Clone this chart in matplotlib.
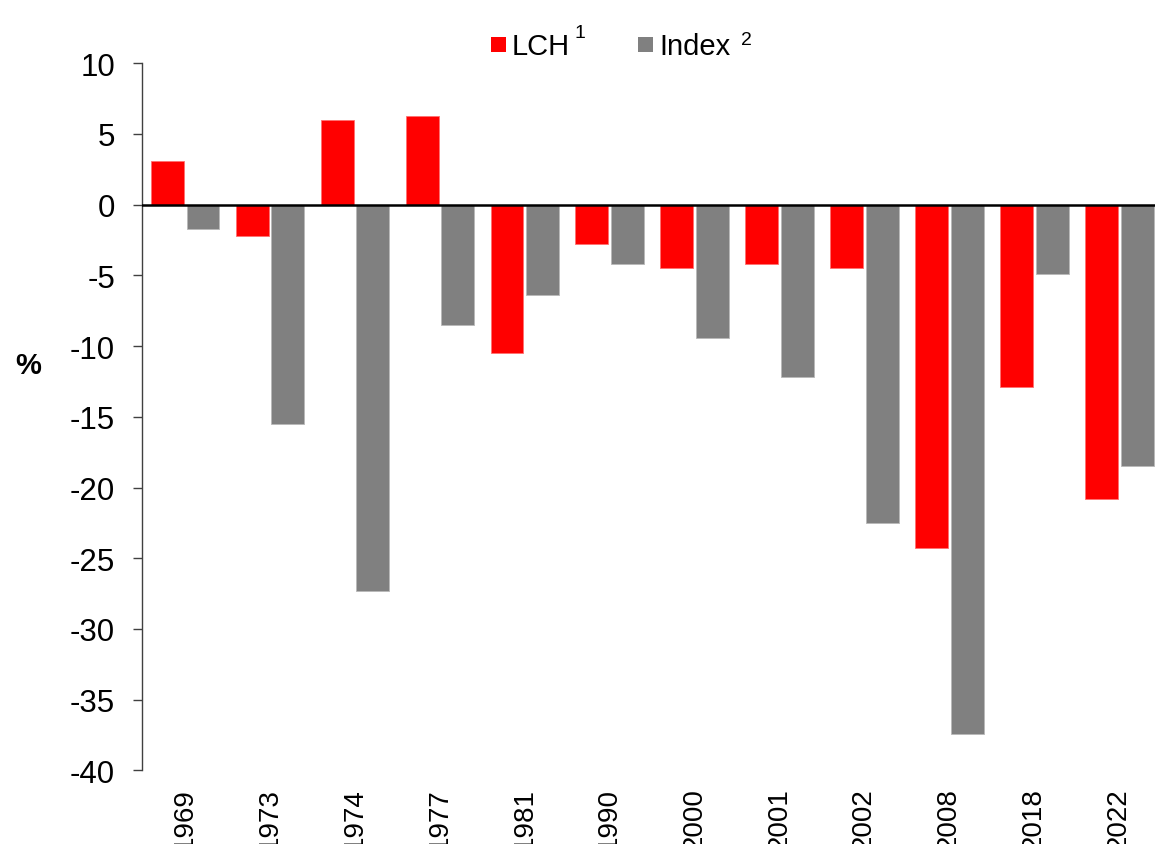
"""Red vs grey drawdown bars by year, LCH against the index."""
import matplotlib
matplotlib.use("Agg")
import matplotlib.pyplot as plt
from matplotlib.patches import Rectangle
import numpy as np

plt.rcParams["font.family"] = ["Liberation Sans", "DejaVu Sans"]
plt.rcParams["axes.unicode_minus"] = False

years = ["1969", "1973", "1974", "1977", "1981", "1990",
         "2000", "2001", "2002", "2008", "2018", "2022"]
lch = [3.1, -2.2, 6.0, 6.3, -10.5, -2.8, -4.5, -4.2, -4.5, -24.3, -12.9, -20.8]
index = [-1.7, -15.5, -27.3, -8.5, -6.4, -4.2, -9.4, -12.2, -22.5, -37.4, -4.9, -18.5]

RED = "#ff0000"
GREY = "#808080"

W, H = 1155, 845
fig = plt.figure(figsize=(W / 100, H / 100), dpi=100)
fig.patch.set_facecolor("white")

# axes run a little past the right edge, as in the cropped original
ax = fig.add_axes([142.3 / W, 1 - 771.3 / H, 1019 / W, 707 / H])

x = np.arange(len(years))
bw = 0.388
ax.bar(x - 0.205, lch, bw, color=RED, edgecolor="#ff7070", linewidth=0.6, zorder=2)
ax.bar(x + 0.215, index, bw, color=GREY, edgecolor="#b8b8b8", linewidth=0.6, zorder=2)
ax.axhline(0, color="black", linewidth=1.8, zorder=3)

ax.set_xlim(-0.5, len(years) - 0.5)
ax.set_ylim(-40, 10)
ax.set_yticks(np.arange(-40, 11, 5))
ax.set_xticks(x)
ax.set_xticklabels(years, rotation=90, fontsize=20, va="top", ha="center")
ax.tick_params(axis="x", length=0, pad=12)
ax.tick_params(axis="y", direction="out", length=6.5, width=1, color="#404040",
               labelsize=22.5, pad=13)

for s in ("top", "right", "bottom"):
    ax.spines[s].set_visible(False)
ax.spines["left"].set_color("#404040")
ax.spines["left"].set_linewidth(1)

fig.text(28 / W, 1 - 366 / H, "%", fontsize=21, fontweight="bold",
         ha="center", va="center")

# legend, drawn by hand to get the superscript footnote marks
def legend_item(x0, color, label, sup, sup_x, sup_base):
    fig.add_artist(Rectangle((x0 / W, 1 - 52.7 / H), 15 / W, 14.7 / H,
                             transform=fig.transFigure, facecolor=color,
                             edgecolor="none"))
    fig.text((x0 + 21) / W, 1 - 55 / H, label, fontsize=21, va="baseline")
    fig.text(sup_x / W, 1 - sup_base / H, sup, fontsize=14, va="baseline")

legend_item(490.7, RED, "LCH", "1", 574, 38.5)
legend_item(638, GREY, "Index", "2", 740.5, 45)

fig.savefig("out.png", dpi=100, facecolor="white")
